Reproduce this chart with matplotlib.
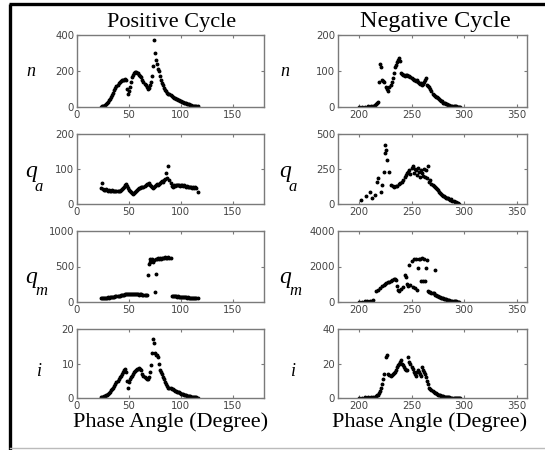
import matplotlib
matplotlib.use("Agg")
import matplotlib.pyplot as plt

# ---- data (phase angle in degrees) ----
pos_phase = list(range(23, 117))
neg_phase_n = [200, 203, 206, 209, 211, 213, 215, 216, 217, 218, 219, 220, 221, 222, 223, 224,
               226, 227, 228, 229, 230, 231, 232, 233, 234, 235, 236, 237, 238, 239, 240, 241,
               242, 243, 244, 245, 246, 247, 248, 249, 250, 251, 252, 253, 254, 255, 256, 257,
               258, 259, 260, 261, 262, 263, 264, 265, 266, 267, 268, 269, 270, 271, 272, 273,
               274, 275, 276, 277, 278, 279, 280, 281, 282, 283, 284, 285, 286, 287, 288, 289,
               290, 291, 292, 293, 294, 295, 296]

pos_n = [2, 3, 5, 8, 12, 18, 22, 30, 38, 45, 55, 68, 80, 92, 105, 115, 125, 132, 140, 145,
         150, 152, 150, 155, 148, 100, 75, 90, 110, 140, 165, 180, 190, 195, 192, 188, 190, 180,
         175, 165, 150, 140, 130, 120, 110, 100, 105, 120, 140, 170, 230, 370, 300, 260, 240,
         210, 200, 170, 150, 135, 120, 105, 95, 88, 80, 75, 70, 65, 60, 55, 52, 50, 45, 42, 40,
         38, 35, 32, 30, 27, 25, 22, 20, 18, 16, 14, 12, 10, 8, 7, 6, 5, 4, 3]

pos_qa = [45, 60, 42, 40, 40, 42, 40, 38, 40, 38, 38, 40, 38, 38, 36, 37, 38, 36, 38, 40,
          42, 45, 50, 55, 58, 52, 45, 40, 38, 35, 32, 30, 32, 35, 38, 40, 42, 45, 45, 48, 50,
          50, 52, 55, 58, 57, 60, 55, 52, 48, 45, 48, 52, 55, 56, 55, 58, 60, 62, 65, 62, 68,
          72, 90, 75, 108, 70, 60, 52, 50, 55, 52, 55, 54, 53, 55, 52, 55, 53, 52, 54, 52, 50,
          52, 50, 48, 50, 48, 47, 48, 46, 50, 45, 35]

pos_qm = [50, 55, 50, 60, 55, 60, 62, 65, 60, 65, 70, 68, 72, 75, 78, 80, 85, 88, 90, 95,
          98, 100, 105, 110, 112, 115, 118, 115, 112, 115, 110, 112, 108, 110, 112, 108, 110,
          105, 108, 110, 105, 100, 105, 100, 95, 380, 540, 560, 580, 600, 570, 590, 140, 610,
          600, 615, 610, 620, 605, 615, 625, 620, 630, 620, 625, 630, 620, 625, 90, 85, 80, 78,
          82, 75, 80, 72, 75, 70, 72, 68, 70, 65, 68, 62, 65, 60, 62, 58, 60, 55, 58, 55, 52, 50]
pos_qm_extra_x = [76, 70]
pos_qm_extra_y = [400, 600]

pos_i = [0.2, 0.3, 0.4, 0.5, 0.7, 0.9, 1.0, 1.2, 1.5, 1.8, 2.2, 2.5, 3.0, 3.5, 4.0, 4.5,
         5.0, 5.5, 6.0, 6.5, 7.0, 7.5, 8.0, 8.5, 7.5, 5.0, 3.0, 4.5, 5.5, 6.0, 6.5, 7.0, 7.5,
         7.8, 8.0, 8.3, 8.5, 8.6, 8.5, 8.0, 7.0, 6.5, 6.0, 5.8, 5.5, 5.6, 6.0, 7.5, 9.5, 13.0,
         17.0, 16.0, 13.0, 12.5, 12.5, 12.0, 10.0, 8.0, 7.5, 7.0, 6.0, 5.5, 4.5, 4.0, 3.5, 3.0,
         2.9, 2.8, 2.6, 2.5, 2.3, 2.1, 2.0, 1.8, 1.7, 1.6, 1.5, 1.3, 1.2, 1.1, 1.0, 0.9, 0.8,
         0.7, 0.6, 0.5, 0.45, 0.4, 0.35, 0.3, 0.25, 0.2, 0.15, 0.1]

neg_n = [1, 0, 1, 2, 2, 3, 5, 8, 12, 15, 70, 120, 110, 75, 72, 70, 55, 50, 45, 55, 60, 70,
         80, 95, 110, 118, 125, 130, 135, 128, 95, 92, 90, 88, 85, 88, 90, 86, 85, 82, 80, 78,
         75, 76, 72, 74, 70, 68, 65, 66, 62, 64, 70, 75, 80, 60, 58, 55, 50, 45, 35, 33, 30, 28,
         27, 25, 22, 20, 18, 16, 12, 11, 10, 8, 7, 6, 5, 4, 4, 3, 3, 2, 2, 1, 1, 1, 0]

neg_qa_x = [202, 207, 210, 212, 215, 217, 218, 221, 222, 224, 225, 225, 226, 227, 229, 230,
            232, 233, 235, 236, 238, 239, 241, 242, 244, 245, 246, 247, 248, 249, 250, 251,
            252, 253, 254, 255, 256, 257, 258, 259, 260, 261, 262, 263, 264, 265, 266, 267,
            268, 269, 270, 271, 272, 273, 274, 275, 276, 277, 278, 279, 280, 281, 282, 283,
            284, 285, 286, 287, 288, 289, 290, 291, 292, 293, 294, 295]
neg_qa = [30, 55, 88, 40, 64, 160, 183, 88, 136, 231, 362, 421, 386, 314, 226, 136, 130,
          124, 132, 129, 140, 148, 160, 171, 190, 207, 220, 231, 240, 215, 255, 270, 219, 250,
          243, 210, 260, 230, 195, 240, 219, 200, 250, 190, 243, 183, 270, 160, 175, 140, 136,
          130, 125, 112, 105, 100, 88, 80, 75, 64, 60, 55, 52, 45, 42, 40, 35, 30, 33, 25, 20,
          17, 12, 8, 5, 3]

neg_qm_x = [200, 203, 206, 208, 210, 212, 213, 216, 218, 220, 222, 224, 225, 226, 228, 229,
            230, 231, 233, 234, 235, 236, 237, 238, 240, 242, 244, 245, 246, 247, 248, 249,
            250, 251, 252, 253, 254, 255, 256, 257, 258, 259, 260, 261, 262, 263, 264, 265,
            266, 267, 268, 269, 270, 271, 272, 272, 273, 274, 275, 276, 277, 278, 279, 280,
            281, 282, 283, 284, 285, 286, 287, 288, 289, 290, 291, 292, 293, 294, 295]
neg_qm = [20, 10, 40, 30, 60, 50, 120, 600, 700, 800, 900, 950, 1000, 1050, 1100, 1150,
          1200, 1250, 1300, 1280, 1250, 900, 700, 600, 750, 850, 1500, 1400, 1000, 900, 2100,
          950, 2300, 850, 2400, 800, 2450, 700, 1900, 2450, 2400, 1200, 2500, 1200, 2400,
          1200, 1900, 2350, 600, 580, 550, 520, 500, 480, 1800, 420, 400, 350, 320, 300, 280,
          250, 230, 200, 180, 160, 150, 130, 110, 100, 80, 70, 60, 50, 40, 30, 25, 20, 15]

neg_i = [0.2, 0.1, 0.3, 0.4, 0.5, 0.6, 0.8, 1.0, 1.5, 2.0, 3.0, 4.0, 6.0, 8.0, 11.0, 14.0,
         24.0, 25.0, 14.0, 13.5, 13.0, 13.5, 14.0, 14.5, 15.0, 16.0, 18.0, 19.0, 20.0, 21.0,
         22.0, 20.0, 19.0, 18.0, 17.0, 16.5, 16.0, 24.0, 21.0, 20.0, 18.0, 17.0, 15.0, 14.0,
         13.0, 15.0, 16.0, 15.0, 14.0, 13.0, 18.0, 16.0, 15.0, 14.0, 12.0, 10.0, 8.0, 6.0,
         5.0, 4.5, 4.0, 3.5, 3.0, 2.8, 2.5, 2.0, 1.8, 1.5, 1.2, 1.0, 0.9, 0.8, 0.6, 0.5, 0.4,
         0.3, 0.3, 0.2, 0.2, 0.15, 0.1, 0.1, 0.1, 0.05, 0.05, 0.05, 0.0]

pos_ylims = [400, 200, 1000, 20]
neg_ylims = [200, 500, 4000, 40]
pos_xticks = [0, 50, 100, 150]
neg_xticks = [200, 250, 300, 350]

W, H = 545, 450
fig = plt.figure(figsize=(W / 100, H / 100), dpi=100)

# background axes in pixel coordinates for the frame lines
bg = fig.add_axes([0, 0, 1, 1])
bg.set_xlim(0, W)
bg.set_ylim(H, 0)
bg.axis("off")
bg.plot([10, 10], [3.5, H], color="black", linewidth=2.4, solid_capstyle="butt")
bg.plot([9, W], [3.5, 3.5], color="black", linewidth=2.4, solid_capstyle="butt")
bg.plot([10, W], [447.5, 447.5], color="#bbbbbb", linewidth=1)

def px_axes(x0, y0, x1, y1):
    return fig.add_axes([x0 / W, 1 - y1 / H, (x1 - x0) / W, (y1 - y0) / H])

rows = [(35, 107), (134, 204), (231, 302), (329, 398)]

def style(ax, xlim, ylim, xticks):
    ax.set_xlim(*xlim)
    ax.set_ylim(0, ylim)
    ax.set_xticks(xticks)
    ax.set_yticks([0, ylim / 2, ylim])
    ax.set_yticklabels([str(int(v)) for v in [0, ylim / 2, ylim]])
    for s in ax.spines.values():
        s.set_color("#7a7a7a")
        s.set_linewidth(1.0)
    ax.tick_params(direction="in", length=2.5, width=0.8, color="#7a7a7a",
                   top=True, right=True, labelsize=7.3, labelcolor="#444444", pad=2)

left_data = [(pos_phase, pos_n), (pos_phase, pos_qa), (pos_phase, pos_qm), (pos_phase, pos_i)]
right_data = [(neg_phase_n, neg_n), (neg_qa_x, neg_qa), (neg_qm_x, neg_qm), (neg_phase_n, neg_i)]

for k, (y0, y1) in enumerate(rows):
    axl = px_axes(77, y0, 264, y1)
    xs, ys = left_data[k]
    axl.plot(xs, ys, "k.", markersize=3.6)
    if k == 2:
        axl.plot(pos_qm_extra_x, pos_qm_extra_y, "k.", markersize=3.6)
    style(axl, (0, 180), pos_ylims[k], pos_xticks)

    axr = px_axes(338, y0, 527, y1)
    xs, ys = right_data[k]
    axr.plot(xs, ys, "k.", markersize=3.6)
    style(axr, (180, 360), neg_ylims[k], neg_xticks)

serif = "Liberation Serif"

def ftext(x, y, s, **kw):
    fig.text(x / W, 1 - y / H, s, ha="center", va="center", family=serif, **kw)

ftext(172, 22, "Positive Cycle", fontsize=16)
ftext(435, 22, "Negative Cycle", fontsize=17.5)
ftext(171, 422, "Phase Angle (Degree)", fontsize=16)
ftext(430, 422, "Phase Angle (Degree)", fontsize=16)

# y labels (subscripts set as separate, lowered letters like the original)
for xq in (31, 285):
    ftext(xq, 72, "n", fontsize=13, style="italic")
    ftext(xq, 172, "q", fontsize=17, style="italic")
    ftext(xq + 8, 187, "a", fontsize=12, style="italic")
    ftext(xq, 278, "q", fontsize=17, style="italic")
    ftext(xq + 10, 291, "m", fontsize=12, style="italic")
    ftext(xq + 8, 371, "i", fontsize=13, style="italic")

fig.savefig("out.png", dpi=100)
